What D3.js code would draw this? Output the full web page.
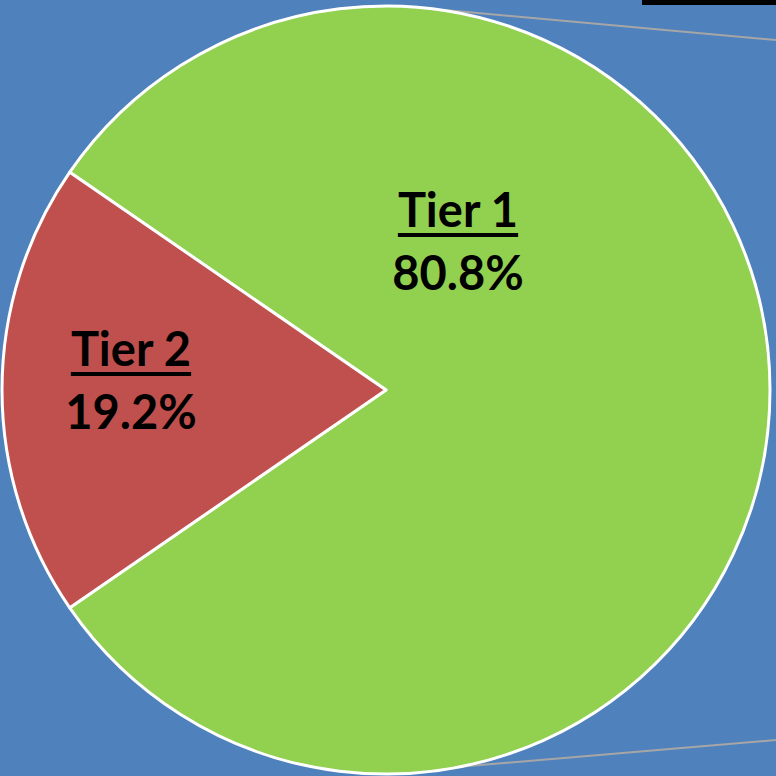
<!DOCTYPE html>
<html lang="en">
<head>
  <meta charset="UTF-8" />
  <title>Tier split</title>
  <style>
    html, body { margin: 0; padding: 0; background: #4f81bd; }
    svg { display: block; }
  </style>
</head>
<body>
  <svg id="chart" width="776" height="776"></svg>

  <script src="https://d3js.org/d3.v7.min.js"></script>
  <script>
    // data
    const tiers = ["Tier 1", "Tier 2"];
    const shares = [80.8, 19.2];
    const colors = ["#92d050", "#c0504d"];

    const width = 776, height = 776;
    const cx = 386, cy = 390, radius = 384;

    const svg = d3.select("#chart");

    svg.append("rect")
      .attr("width", width)
      .attr("height", height)
      .attr("fill", "#4f81bd");

    // black strip in the top right corner
    svg.append("rect")
      .attr("x", 642).attr("y", 0)
      .attr("width", width - 642).attr("height", 5)
      .attr("fill", "#000");

    // callout lines heading off to the right
    svg.append("line")
      .attr("x1", 445).attr("y1", 10)
      .attr("x2", width).attr("y2", 40)
      .attr("stroke", "#a6a6a6").attr("stroke-width", 2);
    svg.append("line")
      .attr("x1", 445).attr("y1", 768)
      .attr("x2", width).attr("y2", 740)
      .attr("stroke", "#a6a6a6").attr("stroke-width", 2);

    const data = tiers.map((t, i) => ({ name: t, value: shares[i], color: colors[i] }));

    // Tier 2 sits centred on the left side
    const t2 = shares[1] / d3.sum(shares) * 2 * Math.PI;
    const start = -Math.PI / 2 + t2 / 2;

    const pie = d3.pie()
      .value(d => d.value)
      .sort(null)
      .startAngle(start)
      .endAngle(start + 2 * Math.PI);

    const arc = d3.arc().innerRadius(0).outerRadius(radius);

    const g = svg.append("g").attr("transform", `translate(${cx},${cy})`);

    g.selectAll("path")
      .data(pie(data))
      .join("path")
      .attr("d", arc)
      .attr("fill", d => d.data.color)
      .attr("stroke", "#fff")
      .attr("stroke-width", 3)
      .attr("stroke-linejoin", "round");

    // label anchors relative to the pie centre
    const labelPos = [[72, -163], [-255, -24]];
    const font = "Lato, 'Open Sans', sans-serif";

    const labels = g.selectAll("g.label")
      .data(data)
      .join("g")
      .attr("class", "label")
      .attr("transform", (d, i) => `translate(${labelPos[i][0]},${labelPos[i][1]})`);

    labels.append("text")
      .attr("text-anchor", "middle")
      .attr("font-family", font)
      .attr("font-weight", "bold")
      .attr("font-size", 47)
      .attr("fill", "#000")
      .text(d => d.name);

    labels.each(function () {
      const el = d3.select(this);
      const bb = el.select("text").node().getBBox();
      el.append("rect")
        .attr("x", bb.x)
        .attr("y", 6)
        .attr("width", bb.width)
        .attr("height", 4)
        .attr("fill", "#000");
    });

    labels.append("text")
      .attr("text-anchor", "middle")
      .attr("font-family", font)
      .attr("font-weight", "bold")
      .attr("font-size", 47)
      .attr("y", 63)
      .attr("fill", "#000")
      .text(d => d3.format(".1f")(d.value) + "%");
  </script>
</body>
</html>
